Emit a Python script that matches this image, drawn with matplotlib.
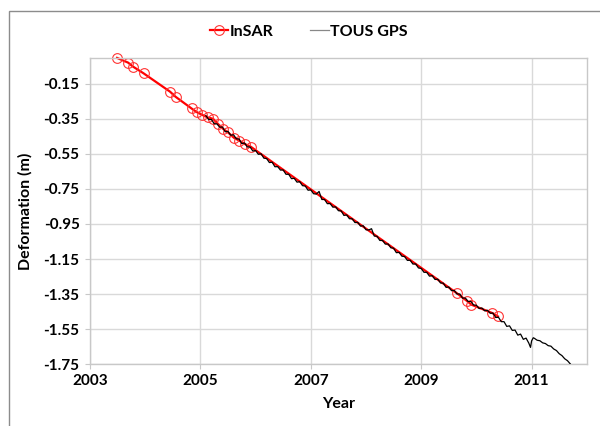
import numpy as np
import matplotlib
matplotlib.use('Agg')
import matplotlib.pyplot as plt
from matplotlib.patches import Rectangle

# InSAR time series (decimal year, deformation in m)
insar_year = [2003.49, 2003.69, 2003.78, 2003.97, 2004.45, 2004.55, 2004.84, 2004.93,
              2005.03, 2005.13, 2005.23, 2005.32, 2005.41, 2005.50, 2005.61, 2005.70,
              2005.81, 2005.91, 2009.64, 2009.83, 2009.91, 2010.29, 2010.39]
insar_def = [-0.001, -0.028, -0.051, -0.089, -0.194, -0.223, -0.290, -0.310,
             -0.326, -0.341, -0.349, -0.379, -0.406, -0.427, -0.458, -0.473,
             -0.494, -0.508, -1.344, -1.390, -1.411, -1.459, -1.478]

# TOUS GPS station
gps_year = [2005.10, 2005.15, 2005.20, 2005.25, 2005.30, 2005.35, 2005.40, 2005.45, 2005.50, 2005.55,
            2005.60, 2005.65, 2005.70, 2005.75, 2005.80, 2005.85, 2005.90, 2005.95, 2006.00, 2006.05,
            2006.10, 2006.15, 2006.20, 2006.25, 2006.30, 2006.35, 2006.40, 2006.45, 2006.50, 2006.55,
            2006.60, 2006.65, 2006.70, 2006.75, 2006.80, 2006.85, 2006.90, 2006.95, 2007.00, 2007.05,
            2007.10, 2007.15, 2007.20, 2007.25, 2007.30, 2007.35, 2007.40, 2007.45, 2007.50, 2007.55,
            2007.60, 2007.65, 2007.70, 2007.75, 2007.80, 2007.85, 2007.90, 2007.95, 2008.00, 2008.05,
            2008.10, 2008.15, 2008.20, 2008.25, 2008.30, 2008.35, 2008.40, 2008.45, 2008.50, 2008.55,
            2008.60, 2008.65, 2008.70, 2008.75, 2008.80, 2008.85, 2008.90, 2008.95, 2009.00, 2009.05,
            2009.10, 2009.15, 2009.20, 2009.25, 2009.30, 2009.35, 2009.40, 2009.45, 2009.50, 2009.55,
            2009.60, 2009.65, 2009.70, 2009.75, 2009.80, 2009.85, 2009.90, 2009.95, 2010.00, 2010.05,
            2010.10, 2010.15, 2010.20, 2010.25, 2010.30, 2010.35, 2010.40, 2010.45, 2010.50, 2010.55,
            2010.60, 2010.65, 2010.70, 2010.75, 2010.80, 2010.85, 2010.90, 2010.95, 2010.98, 2011.00,
            2011.03, 2011.05, 2011.10, 2011.15, 2011.20, 2011.25, 2011.30, 2011.35, 2011.40, 2011.45,
            2011.50, 2011.55, 2011.60, 2011.65, 2011.70]
gps_def = [-0.331, -0.353, -0.353, -0.377, -0.378, -0.397, -0.396, -0.423, -0.421, -0.443,
           -0.440, -0.463, -0.464, -0.491, -0.487, -0.510, -0.510, -0.533, -0.530, -0.552,
           -0.549, -0.574, -0.576, -0.599, -0.597, -0.623, -0.622, -0.642, -0.641, -0.666,
           -0.666, -0.691, -0.689, -0.711, -0.708, -0.731, -0.733, -0.757, -0.755, -0.777,
           -0.779, -0.764, -0.810, -0.810, -0.834, -0.833, -0.854, -0.852, -0.874, -0.875,
           -0.901, -0.898, -0.920, -0.920, -0.942, -0.940, -0.962, -0.960, -0.983, -0.984,
           -0.977, -1.019, -1.020, -1.044, -1.044, -1.065, -1.064, -1.086, -1.088, -1.114,
           -1.112, -1.134, -1.136, -1.158, -1.157, -1.179, -1.178, -1.201, -1.204, -1.226,
           -1.226, -1.248, -1.245, -1.267, -1.265, -1.287, -1.288, -1.312, -1.310, -1.331,
           -1.330, -1.350, -1.350, -1.374, -1.373, -1.393, -1.392, -1.413, -1.414, -1.433,
           -1.430, -1.446, -1.443, -1.460, -1.459, -1.484, -1.483, -1.508, -1.508, -1.535,
           -1.532, -1.558, -1.556, -1.585, -1.579, -1.609, -1.602, -1.631, -1.655, -1.618,
           -1.600, -1.603, -1.614, -1.617, -1.629, -1.633, -1.645, -1.648, -1.664, -1.673,
           -1.691, -1.702, -1.720, -1.731, -1.749]

x_ticks = [2003, 2005, 2007, 2009, 2011]
y_ticks = [-1.75, -1.55, -1.35, -1.15, -0.95, -0.75, -0.55, -0.35, -0.15]

plt.rcParams['font.family'] = ['Lato', 'DejaVu Sans']
plt.rcParams['font.weight'] = 'bold'

fig = plt.figure(figsize=(6, 4.26), dpi=100)
ax = fig.add_axes([0.15, 0.1455, 0.828, 0.719])

# chart area frame
fig.patches.append(Rectangle((9 / 600, -0.1), 1.2, 1 - 11 / 426 + 0.1,
                             transform=fig.transFigure, fill=False,
                             edgecolor='#8c8c8c', linewidth=1.0))

ax.plot(insar_year, insar_def, color='#ff0000', linewidth=1.6, marker='o',
        markersize=7, markerfacecolor='none', markeredgecolor='#ff3333',
        markeredgewidth=0.8, label='InSAR', zorder=2, clip_on=False)
ax.plot(gps_year, gps_def, color='black', linewidth=0.9, label='TOUS GPS', zorder=3)

ax.set_xlim(2003, 2012)
ax.set_ylim(-1.75, 0.0)
ax.set_xticks(x_ticks)
ax.set_yticks(y_ticks)
ax.set_yticklabels(['%.2f' % v for v in y_ticks])
ax.grid(True, color='#d9d9d9', linewidth=1.0)
ax.set_axisbelow(True)
for s in ax.spines.values():
    s.set_color('#c8c8c8')
    s.set_linewidth(1.0)
ax.tick_params(axis='both', length=3.5, color='#c8c8c8', labelsize=11, pad=4)

ax.set_xlabel('Year', fontsize=11.5, fontweight='bold', labelpad=6)
ax.set_ylabel('Deformation (m)', fontsize=11.5, fontweight='bold', labelpad=8)

leg = fig.legend(loc='center', bbox_to_anchor=(0.515, 0.925), ncol=2, frameon=False,
                 fontsize=11.5, handlelength=1.15, handletextpad=0.1, columnspacing=2.3)
leg.legend_handles[1].set_color('#888888')

fig.savefig('out.png', dpi=100)
